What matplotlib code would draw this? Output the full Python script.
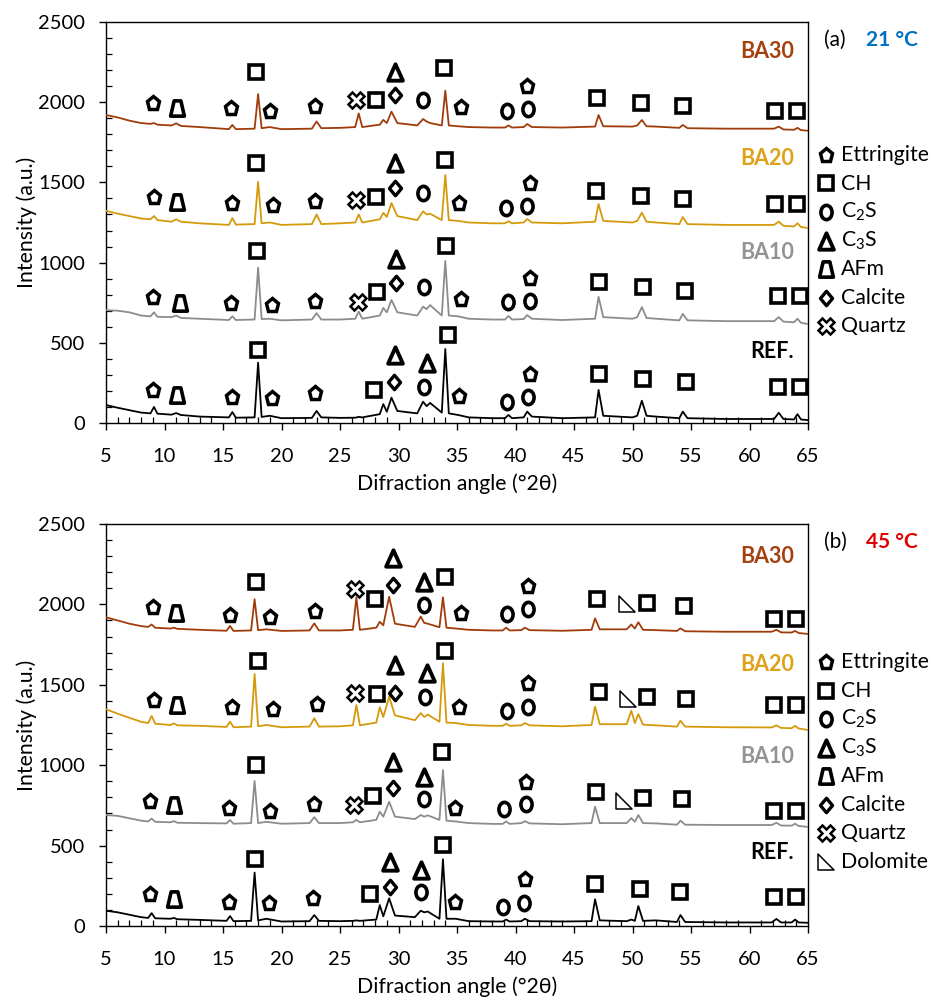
"""XRD patterns of REF and BA10/BA20/BA30 pastes cured at 21 and 45 degC,
with phase markers above the peaks."""

import matplotlib

matplotlib.use("Agg")  # headless
import matplotlib.pyplot as plt
from matplotlib.markers import MarkerStyle
from matplotlib.path import Path
from matplotlib.ticker import MultipleLocator

plt.rcParams["font.family"] = ["Lato", "DejaVu Sans"]
plt.rcParams["mathtext.fontset"] = "custom"
plt.rcParams["mathtext.rm"] = "Lato"
plt.rcParams["mathtext.it"] = "Lato:italic"
plt.rcParams["mathtext.bf"] = "Lato:bold"
plt.rcParams["mathtext.default"] = "regular"

# ---- data ----------------------------------------------------------------
# panel (a) 21 degC: shared 2-theta nodes, one intensity list per sample
TWO_THETA_A = [5, 6, 7, 8, 8.8, 9.1, 9.4, 10.6, 11.0, 11.4,
               13, 15.5, 15.8, 16.1, 17.7, 18.0, 18.3, 19.0, 20, 22.6,
               23.0, 23.4, 25, 26.3, 26.6, 26.9, 28.4, 28.7, 29.0, 29.4,
               29.9, 31.6, 32.1, 32.4, 32.7, 33.7, 34.0, 34.3, 35.1, 36,
               38, 39.1, 39.4, 39.7, 40.7, 41.0, 41.4, 44, 46.8, 47.1,
               47.5, 50.0, 50.4, 50.8, 51.2, 52, 54.0, 54.3, 54.7, 58,
               62.1, 62.5, 62.9, 63.8, 64.1, 64.4, 65]
REF_A = [112, 95, 80, 65, 60, 100, 58, 52, 62, 50,
         40, 35, 68, 33, 35, 376, 38, 45, 30, 32,
         75, 35, 32, 33, 38, 35, 55, 118, 70, 158,
         75, 60, 133, 105, 125, 65, 461, 60, 50, 35,
         30, 30, 50, 30, 35, 71, 40, 30, 35, 206,
         45, 35, 45, 139, 45, 40, 30, 71, 30, 25,
         25, 64, 25, 22, 55, 22, 18]
BA10_A = [704, 700, 690, 670, 665, 690, 662, 660, 670, 655,
          650, 642, 665, 642, 645, 968, 648, 650, 640, 645,
          685, 645, 645, 650, 694, 650, 670, 717, 690, 767,
          690, 670, 725, 710, 735, 670, 1010, 670, 665, 650,
          645, 645, 667, 645, 648, 673, 650, 642, 650, 787,
          660, 650, 660, 723, 655, 650, 640, 680, 640, 635,
          635, 660, 632, 628, 650, 625, 617]
BA20_A = [1323, 1305, 1290, 1275, 1270, 1290, 1265, 1255, 1270, 1255,
          1245, 1235, 1277, 1237, 1240, 1504, 1245, 1250, 1235, 1240,
          1300, 1240, 1245, 1250, 1300, 1250, 1270, 1310, 1285, 1371,
          1290, 1265, 1320, 1300, 1305, 1265, 1546, 1265, 1260, 1250,
          1245, 1245, 1258, 1245, 1250, 1272, 1250, 1245, 1255, 1365,
          1260, 1250, 1260, 1311, 1255, 1250, 1240, 1284, 1240, 1235,
          1235, 1255, 1230, 1225, 1245, 1222, 1215]
BA30_A = [1920, 1905, 1885, 1870, 1865, 1870, 1860, 1855, 1868, 1852,
          1845, 1832, 1858, 1832, 1835, 2051, 1838, 1845, 1832, 1835,
          1880, 1838, 1840, 1845, 1930, 1845, 1860, 1890, 1870, 1941,
          1870, 1855, 1895, 1880, 1870, 1855, 2072, 1855, 1850, 1845,
          1842, 1842, 1855, 1842, 1845, 1864, 1845, 1842, 1848, 1920,
          1850, 1848, 1855, 1889, 1850, 1848, 1840, 1858, 1838, 1835,
          1835, 1848, 1830, 1828, 1840, 1826, 1822]

# panel (b) 45 degC
TWO_THETA_B = [5, 6, 7, 8, 8.6, 8.9, 9.2, 10.5, 10.8, 11.1,
               13, 15.3, 15.6, 15.9, 17.4, 17.7, 18.0, 18.7, 20, 22.4,
               22.8, 23.2, 25, 26.1, 26.4, 26.7, 28.1, 28.4, 28.7, 29.2,
               29.7, 31.4, 31.9, 32.2, 32.5, 33.5, 33.8, 34.1, 34.9, 36,
               38, 38.9, 39.2, 39.5, 40.5, 40.8, 41.2, 44, 46.5, 46.8,
               47.2, 49.5, 49.9, 50.2, 50.5, 50.9, 52, 53.8, 54.1, 54.5,
               58, 61.9, 62.3, 62.7, 63.6, 63.9, 64.2, 65]
REF_B = [95, 85, 70, 55, 50, 80, 48, 45, 50, 42,
         38, 32, 62, 30, 32, 332, 35, 45, 28, 30,
         68, 32, 30, 32, 35, 32, 40, 130, 60, 172,
         65, 55, 95, 85, 90, 45, 415, 45, 45, 30,
         28, 28, 40, 28, 30, 45, 30, 28, 30, 166,
         35, 30, 40, 32, 124, 32, 35, 25, 68, 25,
         22, 22, 44, 22, 22, 40, 22, 20]
BA10_B = [690, 685, 670, 655, 650, 668, 648, 645, 652, 642,
          640, 638, 659, 636, 640, 902, 640, 648, 636, 640,
          677, 640, 640, 645, 660, 645, 660, 711, 680, 773,
          680, 665, 690, 680, 688, 660, 970, 655, 650, 640,
          635, 635, 650, 635, 640, 652, 638, 633, 640, 742,
          640, 640, 671, 648, 690, 640, 638, 630, 655, 630,
          628, 628, 642, 625, 624, 636, 622, 616]
BA20_B = [1348, 1320, 1295, 1270, 1262, 1306, 1258, 1250, 1260, 1248,
          1245, 1238, 1271, 1236, 1240, 1567, 1242, 1250, 1236, 1240,
          1292, 1240, 1242, 1248, 1374, 1248, 1265, 1360, 1300, 1426,
          1310, 1280, 1324, 1300, 1315, 1270, 1634, 1265, 1262, 1250,
          1245, 1245, 1258, 1245, 1248, 1262, 1248, 1242, 1250, 1364,
          1255, 1255, 1339, 1262, 1318, 1252, 1248, 1240, 1277, 1240,
          1236, 1235, 1248, 1232, 1230, 1245, 1228, 1219]
BA30_B = [1920, 1900, 1880, 1865, 1860, 1875, 1855, 1850, 1855, 1848,
          1842, 1836, 1866, 1835, 1838, 2032, 1840, 1845, 1835, 1838,
          1882, 1838, 1838, 1842, 2044, 1842, 1855, 1892, 1870, 2048,
          1880, 1860, 1924, 1885, 1880, 1858, 2044, 1855, 1850, 1842,
          1838, 1838, 1855, 1838, 1840, 1855, 1840, 1836, 1842, 1913,
          1845, 1845, 1875, 1850, 1889, 1842, 1840, 1835, 1851, 1833,
          1830, 1830, 1842, 1826, 1825, 1835, 1822, 1816]

SAMPLES = ["REF.", "BA10", "BA20", "BA30"]
LABEL_Y_A = [443, 1060, 1652, 2313]
LABEL_Y_B = [454, 1057, 1629, 2295]

# phase markers: (phase, 2-theta, intensity)
PEAKS_A_REF = [("ett", 9.05, 206), ("afm", 11.1, 175), ("ett", 15.8, 164), ("ch", 18.0, 455),
               ("ett", 19.2, 154), ("ett", 22.9, 185), ("ch", 27.9, 206), ("c3s", 29.7, 424),
               ("cal", 29.6, 257), ("c3s", 32.4, 372), ("c2s", 32.2, 226), ("ch", 34.2, 549),
               ("ett", 35.2, 170), ("c2s", 39.3, 133), ("c2s", 41.1, 164), ("ett", 41.2, 305),
               ("ch", 47.1, 305), ("ch", 50.9, 274), ("ch", 54.6, 254), ("ch", 62.4, 226),
               ("ch", 64.3, 226)]
PEAKS_A_BA10 = [("ett", 9.05, 787), ("afm", 11.3, 750), ("ett", 15.7, 750), ("ch", 17.9, 1074),
                ("ett", 19.2, 736), ("ett", 22.9, 762), ("qtz", 26.5, 756), ("ch", 28.2, 818),
                ("c3s", 29.8, 1020), ("cal", 29.8, 871), ("c2s", 32.2, 846), ("ch", 34.1, 1103),
                ("ett", 35.3, 771), ("c2s", 39.4, 756), ("c2s", 41.2, 762), ("ett", 41.2, 902),
                ("ch", 47.1, 877), ("ch", 50.9, 846), ("ch", 54.5, 825), ("ch", 62.4, 792),
                ("ch", 64.3, 792)]
PEAKS_A_BA20 = [("ett", 9.1, 1411), ("afm", 11.1, 1380), ("ett", 15.8, 1369), ("ch", 17.8, 1619),
                ("ett", 19.3, 1359), ("ett", 22.9, 1386), ("qtz", 26.4, 1390), ("ch", 28.1, 1407),
                ("c3s", 29.7, 1619), ("cal", 29.7, 1463), ("c2s", 32.1, 1432), ("ch", 34.0, 1640),
                ("ett", 35.2, 1369), ("c2s", 39.2, 1338), ("c2s", 41.0, 1353), ("ett", 41.2, 1498),
                ("ch", 46.9, 1446), ("ch", 50.7, 1415), ("ch", 54.3, 1394), ("ch", 62.2, 1365),
                ("ch", 64.1, 1365)]
PEAKS_A_BA30 = [("ett", 9.0, 1995), ("afm", 11.1, 1964), ("ett", 15.7, 1964), ("ch", 17.8, 2188),
                ("ett", 19.0, 1945), ("ett", 22.9, 1976), ("qtz", 26.4, 2014), ("ch", 28.1, 2014),
                ("c3s", 29.7, 2188), ("cal", 29.7, 2045), ("c2s", 32.1, 2014), ("ch", 33.9, 2213),
                ("ett", 35.3, 1970), ("c2s", 39.3, 1947), ("c2s", 41.1, 1956), ("ett", 41.0, 2101),
                ("ch", 47.0, 2024), ("ch", 50.7, 1997), ("ch", 54.3, 1976), ("ch", 62.2, 1947),
                ("ch", 64.1, 1947)]

PEAKS_B_REF = [("ett", 8.8, 199), ("afm", 10.8, 166), ("ett", 15.5, 151), ("ch", 17.7, 415),
               ("ett", 18.9, 141), ("ett", 22.7, 172), ("ch", 27.6, 199), ("c3s", 29.3, 400),
               ("cal", 29.3, 244), ("c3s", 31.9, 348), ("c2s", 31.9, 213), ("ch", 33.8, 504),
               ("ett", 34.8, 151), ("c2s", 38.9, 120), ("c2s", 40.7, 145), ("ett", 40.8, 290),
               ("ch", 46.8, 261), ("ch", 50.6, 228), ("ch", 54.1, 210), ("ch", 62.1, 182),
               ("ch", 64.0, 182)]
PEAKS_B_BA10 = [("ett", 8.8, 779), ("afm", 10.8, 752), ("ett", 15.5, 732), ("ch", 17.8, 1001),
                ("ett", 19.0, 717), ("ett", 22.8, 759), ("qtz", 26.2, 752), ("ch", 27.8, 808),
                ("c3s", 29.5, 1022), ("cal", 29.5, 856), ("c3s", 32.2, 929), ("c2s", 32.2, 788),
                ("ch", 33.7, 1084), ("ett", 34.8, 732), ("c2s", 39.0, 728), ("c2s", 40.9, 757),
                ("ett", 40.9, 897), ("ch", 46.9, 835), ("dol", 49.3, 777), ("ch", 50.9, 794),
                ("ch", 54.2, 788), ("ch", 62.1, 717), ("ch", 64.0, 717)]
PEAKS_B_BA20 = [("ett", 9.1, 1405), ("afm", 11.1, 1374), ("ett", 15.8, 1364), ("ch", 18.0, 1650),
                ("ett", 19.3, 1348), ("ett", 23.0, 1381), ("qtz", 26.3, 1451), ("ch", 28.2, 1443),
                ("c3s", 29.7, 1623), ("cal", 29.7, 1451), ("c3s", 32.4, 1572), ("c2s", 32.3, 1422),
                ("ch", 34.0, 1712), ("ett", 35.2, 1364), ("c2s", 39.3, 1337), ("c2s", 41.1, 1362),
                ("ett", 41.1, 1511), ("ch", 47.1, 1457), ("dol", 49.6, 1412), ("ch", 51.2, 1424),
                ("ch", 54.6, 1412), ("ch", 62.1, 1374), ("ch", 64.0, 1374)]
PEAKS_B_BA30 = [("ett", 9.0, 1982), ("afm", 11.0, 1949), ("ett", 15.6, 1934), ("ch", 17.8, 2141),
                ("ett", 19.0, 1924), ("ett", 22.9, 1961), ("qtz", 26.3, 2094), ("ch", 28.0, 2032),
                ("c3s", 29.5, 2287), ("cal", 29.5, 2121), ("c3s", 32.2, 2141), ("c2s", 32.2, 1996),
                ("ch", 34.0, 2169), ("ett", 35.3, 1949), ("c2s", 39.3, 1940), ("c2s", 41.1, 1971),
                ("ett", 41.1, 2114), ("ch", 47.0, 2035), ("dol", 49.5, 2003), ("ch", 51.2, 2011),
                ("ch", 54.4, 1990), ("ch", 62.1, 1909), ("ch", 64.0, 1909)]

PHASES_A = ["ett", "ch", "c2s", "c3s", "afm", "cal", "qtz"]
PHASES_B = PHASES_A + ["dol"]
PHASE_NAMES = {"ett": "Ettringite", "ch": "CH", "c2s": "C$_2$S", "c3s": "C$_3$S",
               "afm": "AFm", "cal": "Calcite", "qtz": "Quartz", "dol": "Dolomite"}

# ---- styling ---------------------------------------------------------------
COLORS = {"REF.": "#000000", "BA10": "#939393", "BA20": "#DDA218", "BA30": "#A5410F"}
LINE_COLORS = {"REF.": "#000000", "BA10": "#8C8C8C", "BA20": "#D49A0C", "BA30": "#A03C0A"}


def _closed(pts):
    return Path(pts + [pts[0]], closed=True)


_circ = Path.unit_circle()
SYMBOLS = {
    "ett": ("p", 9.8, 2.5, "white"),
    "ch": ("s", 9.4, 2.6, "white"),
    "c2s": (Path(_circ.vertices * [0.78, 1.0], _circ.codes), 10.3, 2.6, "white"),
    "c3s": (_closed([(0, 0.5), (0.45, -0.5), (-0.45, -0.5)]), 11.8, 2.8, "white"),
    "afm": (_closed([(-0.22, 0.5), (0.22, 0.5), (0.45, -0.5), (-0.45, -0.5)]), 11.0, 2.6, "white"),
    "cal": (_closed([(0, 0.5), (0.42, 0), (0, -0.5), (-0.42, 0)]), 10.4, 2.4, "white"),
    "qtz": ("X", 11.0, 1.8, "white"),
    "dol": (_closed([(-0.5, 0.5), (-0.5, -0.5), (0.5, -0.5)]), 11.5, 1.1, "none"),
}


def draw_symbol(ax, phase, x, y, **kw):
    marker, ms, mew, fc = SYMBOLS[phase]
    ax.plot([x], [y], linestyle="none",
            marker=MarkerStyle(marker, joinstyle="miter"), markersize=ms,
            markeredgewidth=mew, markeredgecolor="black", markerfacecolor=fc,
            zorder=5, **kw)


def draw_panel(ax, two_theta, traces, peaks, label_y, phases, tag, temp, temp_color, legend_top):
    for name, values in zip(SAMPLES, traces):
        assert len(values) == len(two_theta)
        ax.plot(two_theta, values, color=LINE_COLORS[name], lw=1.3, zorder=3)
    for name, y in zip(SAMPLES, label_y):
        ax.text(63.8, y, name, ha="right", va="center", fontsize=15.5,
                fontweight="bold", color=COLORS[name])
    for plist in peaks:
        for phase, x, y in plist:
            draw_symbol(ax, phase, x, y)

    ax.set_xlim(5, 65)
    ax.set_ylim(0, 2500)
    ax.set_xticks(range(5, 66, 5))
    ax.set_yticks(range(0, 2501, 500))
    ax.xaxis.set_minor_locator(MultipleLocator(1))
    ax.yaxis.set_minor_locator(MultipleLocator(100))
    ax.tick_params(which="major", direction="out", length=5, width=1.0, labelsize=14.5)
    ax.tick_params(which="minor", direction="in", length=4, width=0.9)
    ax.tick_params(axis="y", which="major", pad=10)
    ax.tick_params(axis="x", which="major", pad=13)
    for sp in ax.spines.values():
        sp.set_linewidth(1.0)
    ax.set_xlabel("Difraction angle (°2θ)", fontsize=15.3, labelpad=6)
    ax.set_ylabel("Intensity (a.u.)", fontsize=15.3, labelpad=1)

    # panel tag and curing temperature
    ax.text(1.0225, 0.955, tag, transform=ax.transAxes, fontsize=15, va="center")
    ax.text(1.082, 0.955, temp, transform=ax.transAxes, fontsize=15, va="center",
            fontweight="bold", color=temp_color)

    # hand-made legend to the right of the axes
    step = 28.5 / 401
    for i, phase in enumerate(phases):
        y = legend_top - i * step
        draw_symbol(ax, phase, 1.0256, y, transform=ax.transAxes, clip_on=False)
        ax.text(1.047, y, PHASE_NAMES[phase], transform=ax.transAxes,
                fontsize=15.3, va="center")


fig = plt.figure(figsize=(9.35, 10.01), dpi=100)
ax_a = fig.add_axes([106 / 935, 1 - 423 / 1001, 702 / 935, 401 / 1001])
ax_b = fig.add_axes([106 / 935, 1 - 926 / 1001, 702 / 935, 402 / 1001])

draw_panel(ax_a, TWO_THETA_A, [REF_A, BA10_A, BA20_A, BA30_A],
           [PEAKS_A_REF, PEAKS_A_BA10, PEAKS_A_BA20, PEAKS_A_BA30],
           LABEL_Y_A, PHASES_A, "(a)", "21 °C", "#0070C0", (423 - 155) / 401)
draw_panel(ax_b, TWO_THETA_B, [REF_B, BA10_B, BA20_B, BA30_B],
           [PEAKS_B_REF, PEAKS_B_BA10, PEAKS_B_BA20, PEAKS_B_BA30],
           LABEL_Y_B, PHASES_B, "(b)", "45 °C", "#E00000", (926 - 662) / 402)

fig.savefig("out.png", dpi=100)
plt.close(fig)
